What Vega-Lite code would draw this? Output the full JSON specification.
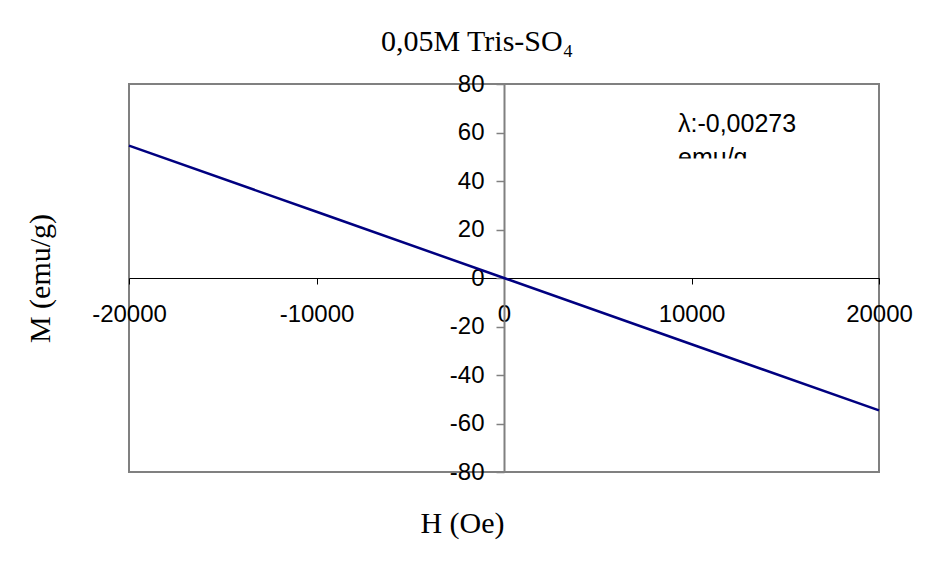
{
  "$schema": "https://vega.github.io/schema/vega-lite/v6.json",
  "width": 750,
  "height": 388,
  "autosize": {"type": "none"},
  "padding": {"left": 129, "top": 84, "right": 58, "bottom": 99},
  "background": "white",
  "title": {
    "text": "0,05M Tris-SO₄",
    "font": "Liberation Serif",
    "fontSize": 30,
    "fontWeight": "normal",
    "color": "black",
    "anchor": "middle",
    "dx": -27,
    "offset": 15
  },
  "config": {"view": {"stroke": "#808080", "strokeWidth": 2}},
  "datasets": {
    "curve": [
      {"H": -20000, "M": 54.6},
      {"H": -10000, "M": 27.3},
      {"H": 0, "M": 0},
      {"H": 10000, "M": -27.3},
      {"H": 20000, "M": -54.6}
    ],
    "note": [
      {"H": 9280, "M": 60.2, "label": ["λ:-0,00273", "emu/g"]}
    ],
    "mask": [
      {"H": 8500, "H2": 17500, "M": 49.3, "M2": 40}
    ]
  },
  "layer": [
    {
      "data": {"name": "curve"},
      "mark": {"type": "line", "color": "#000080", "strokeWidth": 2.5},
      "encoding": {
        "x": {
          "field": "H",
          "type": "quantitative",
          "scale": {"domain": [-20000, 20000], "nice": false, "zero": false},
          "axis": {
            "title": "H (Oe)",
            "orient": "bottom",
            "offset": -194,
            "values": [-20000, -10000, 0, 10000, 20000],
            "labelExpr": "'' + datum.value",
            "grid": false,
            "domainColor": "black",
            "domainWidth": 1,
            "tickColor": "black",
            "tickSize": 6,
            "tickWidth": 1,
            "labelFont": "Liberation Sans",
            "labelFontSize": 24,
            "labelColor": "black",
            "labelPadding": 18,
            "labelFlush": false,
            "labelOverlap": false,
            "titleFont": "Liberation Serif",
            "titleFontSize": 30,
            "titleFontWeight": "normal",
            "titleColor": "black",
            "titleX": 333,
            "titleY": 245,
            "titleAlign": "center",
            "titleBaseline": "middle"
          }
        },
        "y": {
          "field": "M",
          "type": "quantitative",
          "scale": {"domain": [-80, 80], "nice": false, "zero": false},
          "axis": {
            "title": "M (emu/g)",
            "orient": "left",
            "offset": -375,
            "values": [-80, -60, -40, -20, 0, 20, 40, 60, 80],
            "labelExpr": "'' + datum.value",
            "grid": false,
            "domainColor": "#808080",
            "domainWidth": 2,
            "tickColor": "#808080",
            "tickSize": 8,
            "tickWidth": 1.5,
            "labelFont": "Liberation Sans",
            "labelFontSize": 24,
            "labelColor": "black",
            "labelPadding": 12,
            "labelFlush": false,
            "labelOverlap": false,
            "titleFont": "Liberation Serif",
            "titleFontSize": 30,
            "titleFontWeight": "normal",
            "titleColor": "black",
            "titleX": -464,
            "titleY": 194,
            "titleAngle": -90,
            "titleAlign": "center",
            "titleBaseline": "middle"
          }
        }
      }
    },
    {
      "data": {"name": "note"},
      "mark": {
        "type": "text",
        "align": "left",
        "baseline": "alphabetic",
        "font": "Liberation Sans",
        "fontSize": 25,
        "lineHeight": 34,
        "color": "black"
      },
      "encoding": {
        "x": {"field": "H", "type": "quantitative"},
        "y": {"field": "M", "type": "quantitative"},
        "text": {"field": "label"}
      }
    },
    {
      "data": {"name": "mask"},
      "mark": {"type": "rect", "color": "white", "opacity": 1},
      "encoding": {
        "x": {"field": "H", "type": "quantitative"},
        "x2": {"field": "H2"},
        "y": {"field": "M", "type": "quantitative"},
        "y2": {"field": "M2"}
      }
    }
  ]
}
